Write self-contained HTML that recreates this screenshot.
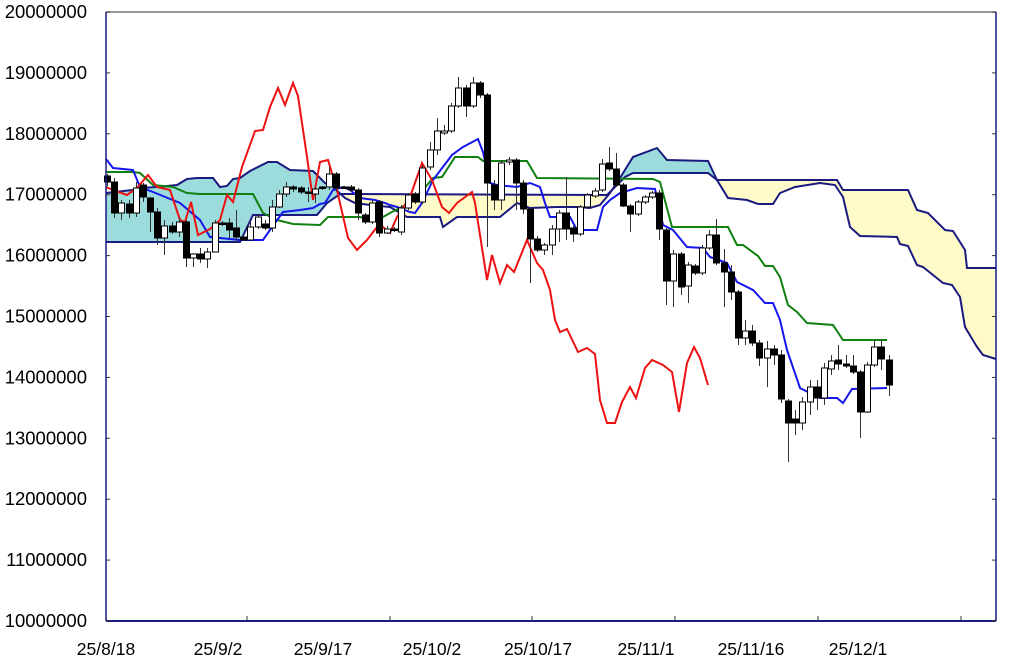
<!DOCTYPE html>
<html><head><meta charset="utf-8">
<style>
html,body{margin:0;padding:0;background:#fff;}
svg{display:block;font-family:"Liberation Sans",sans-serif;}
</style></head>
<body>
<svg id="s" width="1024" height="662" viewBox="0 0 1024 662" xmlns="http://www.w3.org/2000/svg">
<defs>
<clipPath id="cTeal"><polygon id="cpT" points=""/></clipPath>
<clipPath id="cYel"><polygon id="cpY" points=""/></clipPath>
</defs>
<rect x="0" y="0" width="1024" height="662" fill="#fff"/>
<g id="cloud"></g>
<g id="lines"></g>
<g id="candles"></g>
<g id="axes"></g>
</svg>
<script>
var NS="http://www.w3.org/2000/svg";
function el(p,t,a){var e=document.createElementNS(NS,t);for(var k in a)e.setAttribute(k,a[k]);p.appendChild(e);return e;}
function pts(a){return a.map(function(p){return p[0]+","+p[1];}).join(" ");}
var L=106,R=996,T=12,B=621;
var A=[[106,193],[133,190],[140,188],[157,187],[177,185],[187,179],[197,178],[213,178],[220,187],[227,186],[233,179],[240,178],[250,171],[268,162],[277,162],[290,170],[313,171],[325,183],[333,187],[345,198],[355,203],[370,205],[380,206],[390,207],[407,217],[440,217],[443,227],[457,217],[500,217],[517,203],[530,208],[557,207],[577,207],[590,208],[600,205],[610,193],[620,178],[633,157],[657,148],[667,160],[708,161],[717,180],[728,198],[747,200],[758,204],[773,204],[780,193],[795,187],[820,183],[835,185],[843,197],[850,227],[860,236],[897,237],[900,244],[908,246],[917,265],[923,267],[943,283],[952,285],[960,297],[965,327],[977,347],[983,355],[996,359]];
var Bs=[[106,242],[240,242],[253,215],[317,215],[327,203],[340,194],[350,194],[607,195],[625,177],[633,173],[708,173],[717,180],[837,180],[843,190],[908,190],[917,210],[928,213],[945,230],[953,231],[965,250],[967,268],[996,268]];
var cloud=document.getElementById("cloud");
var between=A.concat(Bs.slice().reverse());
document.getElementById("cpT").setAttribute("points",pts(A.concat([[996,700],[100,700]])));
document.getElementById("cpY").setAttribute("points",pts(A.concat([[996,-10],[100,-10]])));
el(cloud,"polygon",{points:pts(between),fill:"#9ddcdc","clip-path":"url(#cTeal)"});
el(cloud,"polygon",{points:pts(between),fill:"#fffbc8","clip-path":"url(#cYel)"});
var lines=document.getElementById("lines");
el(lines,"polyline",{points:pts(A),fill:"none",stroke:"#1a1a80","stroke-width":2});
el(lines,"polyline",{points:pts(Bs),fill:"none",stroke:"#1a1a80","stroke-width":2});
var green=[[106,172],[133,172],[140,173],[153,185],[173,187],[187,193],[200,194],[253,194],[263,213],[277,220],[293,224],[320,225],[328,217],[360,217],[373,220],[383,217],[390,213],[410,203],[423,190],[433,178],[442,177],[455,157],[478,157],[483,161],[527,161],[537,178],[653,179],[660,182],[672,227],[728,227],[737,245],[743,245],[758,256],[765,266],[773,266],[780,277],[788,305],[797,312],[807,323],[833,325],[843,340],[887,340]];
var blue=[[106,159],[113,168],[133,170],[140,187],[153,192],[180,203],[200,220],[210,237],[240,240],[263,240],[270,230],[283,212],[300,210],[313,208],[320,204],[325,203],[333,190],[343,187],[350,190],[360,198],[375,200],[385,203],[390,205],[397,207],[410,212],[415,213],[422,203],[433,180],[452,155],[463,147],[478,139],[483,152],[490,183],[497,185],[517,187],[530,183],[540,187],[545,203],[550,217],[570,217],[577,230],[597,230],[603,207],[610,200],[620,193],[637,188],[655,189],[663,225],[673,230],[687,247],[703,248],[710,257],[727,263],[737,282],[753,290],[765,303],[773,303],[780,320],[787,350],[800,388],[820,398],[837,398],[843,403],[852,389],[887,388]];
var red=[[106,187],[113,190],[127,195],[137,188],[148,175],[157,187],[170,190],[180,220],[185,222],[191,202],[198,235],[210,229],[220,220],[227,195],[233,202],[242,167],[255,131],[263,130],[270,107],[278,88],[285,105],[293,83],[298,96],[307,157],[313,200],[320,162],[328,160],[337,190],[348,238],[357,250],[367,240],[377,227],[383,227],[390,233],[397,217],[410,197],[422,163],[432,180],[442,207],[449,213],[457,203],[472,192],[475,203],[487,280],[492,255],[500,283],[507,265],[514,272],[527,240],[537,263],[543,270],[550,290],[555,320],[560,332],[567,329],[578,352],[587,348],[595,354],[600,400],[607,423],[615,423],[622,402],[630,387],[636,398],[645,368],[652,360],[663,365],[672,372],[679,412],[687,363],[694,347],[700,358],[708,385]];
el(lines,"polyline",{points:pts(green),fill:"none",stroke:"#108010","stroke-width":2});
el(lines,"polyline",{points:pts(blue),fill:"none",stroke:"#1515ee","stroke-width":2});
el(lines,"polyline",{points:pts(red),fill:"none",stroke:"#ee1111","stroke-width":2});
var C=[[1,176,182,174,186],[1,182,213,178,218],[0,203,213,200,220],[1,204,213,200,218],[0,188,213,182,217],[1,185,197,183,202],[1,198,212,197,232],[1,212,238,208,245],[0,226,238,220,255],[1,226,232,222,234],
[0,222,232,218,237],[1,222,258,220,267],[0,254,258,253,267],[1,254,259,248,263],[0,252,259,248,268],[0,223,252,220,252],[1,223,224,221,226],[1,223,230,218,238],[1,228,237,210,242],[1,237,240,236,241],
[0,227,240,222,240],[0,217,227,215,229],[1,224,228,220,230],[0,207,228,200,232],[0,194,207,190,208],[0,187,194,182,197],[1,187,189,185,192],[1,188,192,186,194],[1,192,193,187,202],[0,189,194,187,203],
[1,187,188,186,190],[0,174,187,167,190],[1,174,188,172,192],[1,187,188,186,189],[1,187,190,185,192],[1,190,213,188,220],[1,215,222,213,224],[0,203,222,200,224],[1,202,233,200,237],[0,229,233,226,234],
[1,229,230,227,232],[0,208,232,205,235],[0,195,208,193,210],[1,194,202,192,204],[0,168,202,165,204],[0,150,167,142,170],[0,131,150,118,155],[0,131,133,125,135],[0,106,131,103,133],[0,88,106,77,108],
[1,88,106,85,117],[0,83,106,77,108],[1,83,95,81,98],[1,95,183,93,247],[1,185,200,180,210],[0,163,200,160,210],[0,160,162,157,165],[1,160,183,158,210],[1,183,209,180,214],[1,209,239,207,283],
[1,239,250,236,252],[0,245,250,243,255],[0,229,245,225,255],[0,213,229,210,242],[1,213,229,177,240],[1,228,234,226,242],[0,207,234,205,236],[0,195,207,193,209],[0,191,196,188,198],[0,164,190,159,192],
[1,163,169,147,171],[1,169,185,153,187],[1,185,206,183,207],[1,206,214,204,232],[0,202,214,200,216],[0,197,202,195,204],[0,193,197,191,199],[1,193,229,190,240],[1,230,281,228,305],[0,254,281,250,307],
[1,254,287,252,295],[0,265,286,262,303],[1,266,273,264,275],[0,248,273,245,275],[0,235,248,230,250],[1,235,263,219,265],[1,263,272,249,307],[1,272,292,265,300],[1,292,338,290,345],[0,331,338,320,345],
[1,331,343,325,346],[1,343,358,340,366],[0,349,358,341,387],[1,349,355,345,365],[1,355,399,350,403],[1,401,423,399,462],[1,419,423,410,435],[0,402,423,397,430],[0,387,402,380,415],[1,387,398,380,410],
[0,368,398,363,405],[0,361,369,355,375],[1,360,364,345,370],[1,364,366,355,368],[1,366,372,355,374],[1,372,412,370,438],[0,365,412,362,413],[0,347,365,340,367],[1,347,359,340,370],[1,360,385,355,396]];
var cg=document.getElementById("candles");
for(var i=0;i<C.length;i++){
  var c=C[i],x=Math.round(107+7.17*i)+0.5;
  el(cg,"line",{x1:x,x2:x,y1:c[3],y2:c[4],stroke:"#333","stroke-width":1});
  var h=Math.max(c[2]-c[1],1.5);
  el(cg,"rect",{x:x-3,y:c[1],width:6,height:h,fill:c[0]?"#000":"#fff",stroke:"#000","stroke-width":1});
}
var ax=document.getElementById("axes");
el(ax,"line",{x1:L,x2:R,y1:T,y2:T,stroke:"#777","stroke-width":1.5});
el(ax,"line",{x1:L,x2:L,y1:T,y2:B,stroke:"#1a1a80","stroke-width":1.5});
el(ax,"line",{x1:R,x2:R,y1:T,y2:B,stroke:"#1a1a80","stroke-width":1.5});
el(ax,"line",{x1:L,x2:R,y1:B,y2:B,stroke:"#1a1a80","stroke-width":2});
for(var k=0;k<=10;k++){
  var y=B-k*(B-T)/10;
  el(ax,"line",{x1:L,x2:L+4,y1:y,y2:y,stroke:"#333","stroke-width":1});
  el(ax,"line",{x1:R-4,x2:R,y1:y,y2:y,stroke:"#333","stroke-width":1});
  var t=el(ax,"text",{x:87,y:y+6,"text-anchor":"end","font-size":"18.5",fill:"#000"});
  t.textContent=String(10000000+k*1000000);
}
[247,390,532,675,818,961].forEach(function(x){el(ax,"line",{x1:x,x2:x,y1:B-5,y2:B,stroke:"#333","stroke-width":1});});
var labs=["25/8/18","25/9/2","25/9/17","25/10/2","25/10/17","25/11/1","25/11/16","25/12/1"];
var lx=[106,218,323,432,538,646,751,858];
for(var j=0;j<labs.length;j++){var t2=el(ax,"text",{x:lx[j],y:655,"text-anchor":"middle","font-size":"17.5",fill:"#000"});t2.textContent=labs[j];}
</script>
</body></html>
